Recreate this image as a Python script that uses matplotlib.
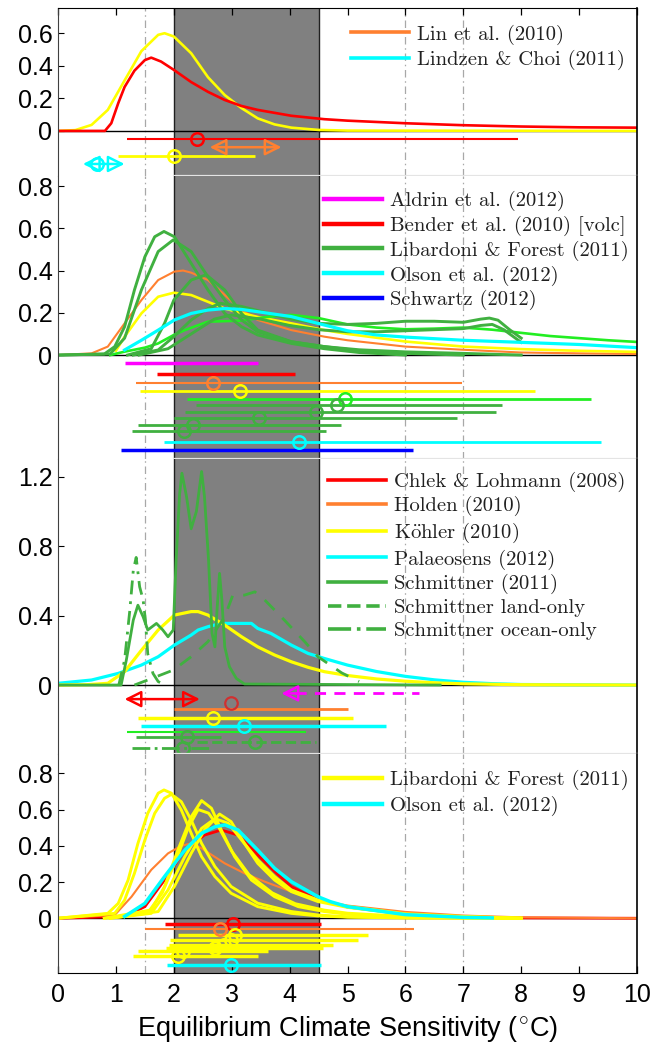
import matplotlib
matplotlib.use("Agg")
import matplotlib.pyplot as plt
from matplotlib.lines import Line2D
from matplotlib.ticker import FixedLocator, FixedFormatter

# ---------------------------------------------------------------- colours
RED = "#ff0000"
ORANGE = "#ff8030"
YELLOW = "#ffff00"
CYAN = "#00ffff"
DKGREEN = "#40b040"
LIME = "#22ee22"
MAGENTA = "#ff00ff"
BLUE = "#0000ff"

# ---------------------------------------------------------------- panel 1
p1_yellow_x = [0, 0.3, 0.58, 0.86, 1.15, 1.44, 1.73, 1.84, 2.0, 2.3, 2.59, 2.88, 3.17, 3.45, 3.74, 4.03, 4.5, 5.0, 10]
p1_yellow_y = [0, 0.005, 0.037, 0.129, 0.31, 0.49, 0.59, 0.60, 0.58, 0.477, 0.33, 0.22, 0.14, 0.077, 0.04, 0.02, 0.006, 0.002, 0]
p1_red_x = [0, 0.81, 0.92, 1.04, 1.15, 1.32, 1.5, 1.61, 1.78, 2.0, 2.3, 2.59, 2.88, 3.17, 3.45, 4.03, 4.6, 5.0, 6.0, 7.0, 8.0, 9.0, 10.0]
p1_red_y = [0, 0.0, 0.047, 0.17, 0.27, 0.37, 0.435, 0.45, 0.426, 0.375, 0.30, 0.24, 0.19, 0.153, 0.129, 0.093, 0.072, 0.063, 0.047, 0.035, 0.027, 0.022, 0.02]

# ranges: (low, high, median or None, row, colour, width)
p1_ranges = [
    (1.20, 7.95, 2.40, -0.051, RED, 1.5),
    (1.04, 3.41, 2.00, -0.154, YELLOW, 2.0),
]
p1_arrows = [
    (2.62, 3.86, None, -0.100, ORANGE),
    (0.43, 1.15, 0.68, -0.203, CYAN),
]
p1_labels = ["Lin et al. (2010)", "Lindzen & Choi (2011)"]
p1_label_colors = [ORANGE, CYAN]

# ---------------------------------------------------------------- panel 2
p2_orange_x = [0, 0.58, 0.86, 1.15, 1.44, 1.73, 2.01, 2.16, 2.3, 2.59, 2.88, 3.17, 3.45, 4.03, 4.6, 5.0, 6.0, 7.0, 8.0, 9.0, 10]
p2_orange_y = [0, 0.008, 0.04, 0.15, 0.26, 0.355, 0.395, 0.40, 0.39, 0.355, 0.284, 0.213, 0.166, 0.118, 0.087, 0.07, 0.04, 0.025, 0.012, 0.008, 0.005]
p2_yellow_x = [1.0, 1.15, 1.44, 1.73, 2.0, 2.3, 2.59, 2.88, 3.45, 4.03, 4.6, 5.0, 6.0, 7.0, 8.0, 9.0, 10]
p2_yellow_y = [0.02, 0.087, 0.197, 0.276, 0.295, 0.284, 0.252, 0.22, 0.18, 0.15, 0.118, 0.1, 0.064, 0.04, 0.028, 0.02, 0.015]
p2_lime_x = [0.9, 1.15, 1.5, 1.73, 2.0, 2.19, 2.59, 3.17, 3.6, 4.03, 4.5, 5.0, 5.5, 6.0, 6.5, 7.0, 7.5, 8.0, 8.5, 9.0, 9.5, 10]
p2_lime_y = [0, 0.016, 0.035, 0.055, 0.095, 0.118, 0.158, 0.163, 0.18, 0.19, 0.175, 0.145, 0.13, 0.122, 0.125, 0.13, 0.12, 0.105, 0.09, 0.08, 0.07, 0.062]
p2_green1_x = [0, 0.8, 0.98, 1.15, 1.32, 1.5, 1.67, 1.83, 2.01, 2.3, 2.59, 2.88, 3.17, 3.45, 4.03, 4.6, 5.2, 6.0]
p2_green1_y = [0, 0.005, 0.04, 0.134, 0.308, 0.465, 0.56, 0.585, 0.56, 0.434, 0.308, 0.197, 0.134, 0.095, 0.055, 0.03, 0.012, 0.0]
p2_green2_x = [0, 0.9, 1.15, 1.44, 1.73, 1.99, 2.3, 2.59, 2.88, 3.17, 3.45, 4.03, 4.6, 5.2, 6.0, 7.0]
p2_green2_y = [0, 0.005, 0.08, 0.308, 0.49, 0.545, 0.49, 0.37, 0.26, 0.166, 0.11, 0.063, 0.04, 0.02, 0.008, 0.0]
p2_green3_x = [1.2, 1.61, 1.84, 2.0, 2.3, 2.56, 2.88, 3.17, 3.45, 4.03, 4.6, 5.2, 6.0, 7.0, 8.0]
p2_green3_y = [0, 0.03, 0.15, 0.26, 0.355, 0.38, 0.308, 0.197, 0.118, 0.063, 0.04, 0.025, 0.015, 0.008, 0.0]
p2_green4_x = [1.3, 1.73, 2.0, 2.3, 2.59, 2.8, 3.17, 3.6, 4.03, 4.5, 5.0, 5.5, 6.0, 6.5, 7.0, 7.3, 7.45, 7.6, 7.8, 8.0]
p2_green4_y = [0, 0.024, 0.087, 0.166, 0.22, 0.245, 0.23, 0.2, 0.17, 0.15, 0.145, 0.15, 0.16, 0.16, 0.155, 0.17, 0.175, 0.165, 0.12, 0.08]
p2_green5_x = [1.4, 1.9, 2.3, 2.7, 3.0, 3.5, 4.0, 4.5, 5.0, 5.5, 6.0, 6.5, 7.0, 7.3, 7.5, 7.7, 8.0]
p2_green5_y = [0, 0.03, 0.1, 0.17, 0.19, 0.17, 0.14, 0.12, 0.11, 0.11, 0.115, 0.12, 0.125, 0.14, 0.145, 0.12, 0.06]
p2_cyan_x = [1.15, 1.44, 1.73, 2.01, 2.3, 2.59, 2.88, 3.17, 3.45, 4.03, 4.6, 5.0, 5.5, 6.0, 7.0, 8.0, 9.0, 10]
p2_cyan_y = [0.024, 0.07, 0.118, 0.166, 0.197, 0.213, 0.22, 0.216, 0.205, 0.182, 0.142, 0.115, 0.095, 0.085, 0.07, 0.06, 0.05, 0.035]

p2_ranges = [
    (1.15, 3.45, None, -0.039, MAGENTA, 2.5),
    (1.71, 4.09, None, -0.0915, RED, 2.5),
    (1.34, 6.98, 2.68, -0.131, ORANGE, 1.5),
    (1.41, 8.24, 3.14, -0.170, YELLOW, 2.0),
    (2.22, 9.21, 4.95, -0.210, LIME, 2.0),
    (2.39, 7.66, 4.82, -0.237, DKGREEN, 2.0),
    (2.19, 7.56, 4.46, -0.268, DKGREEN, 2.0),
    (2.01, 6.89, 3.48, -0.300, DKGREEN, 2.0),
    (1.38, 4.89, 2.33, -0.331, DKGREEN, 2.0),
    (1.28, 4.63, 2.18, -0.360, DKGREEN, 2.0),
    (1.83, 9.37, 4.16, -0.413, CYAN, 2.0),
    (1.09, 6.13, None, -0.450, BLUE, 2.5),
]
p2_labels = ["Aldrin et al. (2012)", "Bender et al. (2010) [volc]",
             "Libardoni & Forest (2011)", "Olson et al. (2012)", "Schwartz (2012)"]
p2_label_colors = [MAGENTA, RED, DKGREEN, CYAN, BLUE]

# ---------------------------------------------------------------- panel 3
p3_cyan_x = [0, 0.58, 1.04, 1.44, 1.73, 2.01, 2.3, 2.42, 2.59, 2.82, 3.34, 3.45, 3.68, 4.03, 4.32, 4.6, 5.0, 5.5, 6.0, 6.5, 7.0, 7.5, 8.0, 10]
p3_cyan_y = [0.01, 0.029, 0.067, 0.115, 0.163, 0.23, 0.288, 0.317, 0.336, 0.355, 0.355, 0.326, 0.297, 0.23, 0.182, 0.153, 0.115, 0.078, 0.05, 0.03, 0.016, 0.008, 0.003, 0]
p3_yellow_x = [0, 0.5, 0.86, 1.15, 1.44, 1.73, 2.01, 2.3, 2.42, 2.59, 2.88, 3.17, 3.45, 3.74, 4.03, 4.32, 4.6, 5.0, 5.5, 6.0, 6.5, 7.0, 8.0, 10]
p3_yellow_y = [0, 0.002, 0.01, 0.077, 0.2, 0.317, 0.403, 0.423, 0.423, 0.403, 0.345, 0.278, 0.22, 0.173, 0.134, 0.102, 0.077, 0.055, 0.035, 0.022, 0.013, 0.007, 0.002, 0]
p3_land_x = [1.32, 1.55, 1.99, 2.3, 2.59, 2.88, 3.02, 3.22, 3.4, 3.57, 3.91, 4.26, 4.49, 4.9, 5.2]
p3_land_y = [0, 0.029, 0.086, 0.163, 0.25, 0.393, 0.518, 0.518, 0.537, 0.49, 0.374, 0.25, 0.163, 0.07, 0.02]
p3_ocean_x = [1.05, 1.15, 1.24, 1.3, 1.35, 1.41, 1.47, 1.51, 1.55, 1.64, 1.73, 1.85]
p3_ocean_y = [0, 0.144, 0.43, 0.66, 0.735, 0.566, 0.49, 0.374, 0.18, 0.067, 0.02, 0]
p3_schm_x = [0, 1.09, 1.18, 1.3, 1.38, 1.47, 1.55, 1.7, 1.81, 1.9, 1.99, 2.04, 2.1, 2.14, 2.22, 2.3, 2.39, 2.48,
             2.53, 2.6, 2.66, 2.71, 2.75, 2.79, 2.83, 2.88, 2.96, 3.08, 3.22, 6.6]
p3_schm_y = [0, 0, 0.144, 0.374, 0.46, 0.393, 0.317, 0.355, 0.317, 0.278, 0.317, 0.72, 1.1, 1.22, 1.085, 0.9, 1.0, 1.23,
             1.085, 0.72, 0.298, 0.22, 0.45, 0.643, 0.49, 0.22, 0.106, 0.038, 0.006, 0]

p3_ranges = [
    (2.00, 5.00, None, -0.140, ORANGE, 2.0),
    (1.39, 5.09, 2.68, -0.192, YELLOW, 2.5),
    (1.44, 5.67, 3.22, -0.236, CYAN, 2.5),
    (1.19, 4.29, None, -0.270, LIME, 1.5),
    (1.35, 2.82, 2.22, -0.301, DKGREEN, 2.0),
]
p3_dashed_ranges = [
    (2.40, 4.46, 3.40, -0.330, DKGREEN, "--"),
    (1.27, 2.65, 2.16, -0.365, DKGREEN, "-."),
]
p3_arrows = [(1.15, 2.45, None, -0.081, RED)]
p3_left_arrow = (3.86, 6.24, -0.048, MAGENTA)
p3_red_median = (2.99, -0.105)
p3_labels = ["Chlek & Lohmann (2008)", "Holden (2010)", r"K$\ddot{\mathrm{o}}$hler (2010)", "Palaeosens (2012)",
             "Schmittner (2011)", "Schmittner land-only", "Schmittner ocean-only"]
p3_label_colors = [RED, ORANGE, YELLOW, CYAN, DKGREEN, DKGREEN, DKGREEN]
p3_label_styles = ["-", "-", "-", "-", "-", "--", "-."]

# ---------------------------------------------------------------- panel 4
p4_red_x = [0, 1.15, 1.5, 1.84, 2.19, 2.53, 2.82, 3.11, 3.45, 3.74, 4.03, 4.49, 5.0, 6.0, 7.0, 8.0, 10]
p4_red_y = [0, 0.01, 0.064, 0.211, 0.376, 0.459, 0.487, 0.459, 0.349, 0.258, 0.175, 0.101, 0.062, 0.022, 0.008, 0.002, 0]
p4_orange_x = [0, 0.98, 1.27, 1.61, 1.9, 2.13, 2.3, 2.48, 2.88, 3.22, 3.57, 4.03, 4.49, 5.0, 6.0, 7.0, 8.0, 10]
p4_orange_y = [0, 0.018, 0.119, 0.267, 0.358, 0.4, 0.413, 0.386, 0.303, 0.248, 0.202, 0.147, 0.101, 0.07, 0.035, 0.015, 0.005, 0]
p4_lf1_x = [0, 0.86, 1.04, 1.21, 1.38, 1.55, 1.73, 1.83, 1.96, 2.13, 2.3, 2.48, 2.71, 2.99, 3.45, 4.03, 4.49, 5.0, 6.0, 8.0]
p4_lf1_y = [0, 0.027, 0.082, 0.21, 0.413, 0.579, 0.69, 0.708, 0.69, 0.597, 0.469, 0.34, 0.23, 0.138, 0.064, 0.027, 0.013, 0.006, 0.002, 0]
p4_lf2_x = [0, 0.98, 1.15, 1.32, 1.5, 1.67, 1.84, 1.96, 2.13, 2.3, 2.48, 2.71, 2.99, 3.45, 4.03, 4.49, 5.0, 6.0, 8.0]
p4_lf2_y = [0, 0.027, 0.1, 0.248, 0.432, 0.579, 0.662, 0.684, 0.643, 0.542, 0.413, 0.285, 0.175, 0.083, 0.037, 0.018, 0.008, 0.002, 0]
p4_lf3_x = [0.8, 1.61, 1.84, 2.07, 2.3, 2.48, 2.65, 2.82, 3.05, 3.34, 3.74, 4.15, 4.6, 5.0, 6.0, 7.0, 8.0]
p4_lf3_y = [0, 0.046, 0.175, 0.376, 0.56, 0.649, 0.607, 0.487, 0.34, 0.211, 0.119, 0.064, 0.037, 0.022, 0.008, 0.003, 0]
p4_lf4_x = [0.8, 1.55, 1.8, 2.05, 2.25, 2.42, 2.6, 2.78, 3.0, 3.3, 3.7, 4.1, 4.6, 5.0, 6.0, 7.0, 8.0]
p4_lf4_y = [0, 0.03, 0.14, 0.33, 0.5, 0.6, 0.58, 0.5, 0.37, 0.24, 0.14, 0.08, 0.045, 0.028, 0.01, 0.004, 0]
p4_lf5_x = [0.9, 1.73, 2.01, 2.3, 2.53, 2.79, 2.99, 3.22, 3.45, 3.74, 4.03, 4.49, 5.0, 6.0, 7.0, 8.0]
p4_lf5_y = [0, 0.037, 0.175, 0.358, 0.487, 0.575, 0.533, 0.413, 0.303, 0.211, 0.147, 0.092, 0.06, 0.022, 0.008, 0]
p4_lf6_x = [0.9, 1.61, 1.9, 2.19, 2.48, 2.71, 2.94, 3.17, 3.45, 3.74, 4.03, 4.49, 5.0, 6.0, 7.0, 8.0]
p4_lf6_y = [0, 0.027, 0.156, 0.34, 0.496, 0.55, 0.524, 0.432, 0.322, 0.23, 0.156, 0.101, 0.065, 0.025, 0.01, 0]
p4_cyan_x = [1.15, 1.5, 1.84, 2.19, 2.48, 2.71, 2.88, 3.11, 3.45, 3.74, 4.03, 4.49, 4.7, 5.0, 6.0, 7.0, 7.5]
p4_cyan_y = [0.01, 0.082, 0.23, 0.376, 0.469, 0.505, 0.515, 0.487, 0.376, 0.276, 0.202, 0.119, 0.092, 0.064, 0.02, 0.005, 0.002]

p4_ranges = [
    (1.84, 4.55, 3.03, -0.031, RED, 2.5),
    (1.51, 6.15, 2.79, -0.061, ORANGE, 1.5),
    (2.08, 5.35, 3.05, -0.092, YELLOW, 2.5),
    (1.94, 5.18, 2.99, -0.120, YELLOW, 2.5),
    (1.92, 4.75, 2.87, -0.145, YELLOW, 2.5),
    (1.87, 4.58, 2.71, -0.163, YELLOW, 2.5),
    (1.38, 3.62, 2.16, -0.182, YELLOW, 2.5),
    (1.30, 3.45, 2.07, -0.208, YELLOW, 2.5),
    (1.88, 4.55, 2.99, -0.258, CYAN, 2.5),
]
p4_labels = ["Libardoni & Forest (2011)", "Olson et al. (2012)"]
p4_label_colors = [YELLOW, CYAN]

# ---------------------------------------------------------------- layout
LIKELY_LOW, LIKELY_HIGH = 2.0, 4.5
REF_LINES = [1.5, 6.0, 7.0]
X_TICKS = list(range(11))

panel_ylims = [(-0.275, 0.755), (-0.492, 0.849), (-0.397, 1.302), (-0.302, 0.9065)]
panel_yticks = [[0, 0.2, 0.4, 0.6], [0, 0.2, 0.4, 0.6, 0.8], [0, 0.4, 0.8, 1.2], [0, 0.2, 0.4, 0.6, 0.8]]
panel_ytick_labels = [["0", "0.2", "0.4", "0.6"], ["0", "0.2", "0.4", "0.6", "0.8"],
                      ["0", "0.4", "0.8", "1.2"], ["0", "0.2", "0.4", "0.6", "0.8"]]
panel_bounds = [(0.8330, 0.9924), (0.5637, 0.8330), (0.2833, 0.5637), (0.0751, 0.2833)]
legend_anchor = [(0.506, 0.902), (0.459, 0.946), (0.467, 0.957), (0.459, 0.926)]
legend_spacing = [0.27, 0.22, 0.21, 0.27]
LEGEND_SIZE = 14.9

SANS = ["Liberation Sans", "DejaVu Sans"]
SERIF = ["cmr10", "DejaVu Serif"]
plt.rcParams["font.family"] = SANS
plt.rcParams["mathtext.fontset"] = "cm"
plt.rcParams["axes.formatter.use_mathtext"] = False

fig = plt.figure(figsize=(6.54, 10.52), dpi=100)
left, width = 0.0887, 0.8853
axes = []
for (b, t) in panel_bounds:
    axes.append(fig.add_axes([left, b, width, t - b]))


def decorate(ax, idx):
    ax.set_xlim(0, 10)
    ax.set_ylim(*panel_ylims[idx])
    ax.axvspan(LIKELY_LOW, LIKELY_HIGH, facecolor="#808080", edgecolor="none", zorder=0)
    for xv in (LIKELY_LOW, LIKELY_HIGH):
        ax.axvline(xv, color="#202020", lw=1.0, zorder=0.6)
    for xv in REF_LINES:
        ax.axvline(xv, color="#a8a8a8", lw=0.9, ls=(0, (6, 3, 1.2, 3)), zorder=0.5)
    ax.axhline(0, color="black", lw=1.0, zorder=1)
    ax.yaxis.set_major_locator(FixedLocator(panel_yticks[idx]))
    ax.yaxis.set_major_formatter(FixedFormatter(panel_ytick_labels[idx]))
    ax.xaxis.set_major_locator(FixedLocator(X_TICKS))
    ax.tick_params(axis="y", direction="in", length=4, width=0.8, labelsize=18, pad=4, right=False)
    ax.tick_params(axis="x", direction="in", length=5, width=0.9, labelsize=18, pad=7,
                   top=(idx == 0), bottom=(idx == 3), labelbottom=(idx == 3))
    ax.spines["left"].set_color("#404040")
    ax.spines["left"].set_linewidth(0.8)
    ax.spines["right"].set_color("black")
    ax.spines["right"].set_linewidth(1.2)
    ax.spines["top"].set_visible(idx == 0)
    ax.spines["bottom"].set_visible(idx == 3)
    if idx < 3:
        lo = panel_ylims[idx][0]
        ax.plot([LIKELY_LOW, 10], [lo, lo], color="#e4e4e4", lw=1.6, zorder=5, clip_on=False)


def curve(ax, xs, ys, color, lw=1.9, ls="-", z=2):
    ax.plot(xs, ys, color=color, lw=lw, ls=ls, zorder=z, solid_joinstyle="round")


def ranges(ax, items, z=3):
    for lo, hi, med, row, color, lw in items:
        ax.plot([lo, hi], [row, row], color=color, lw=lw, zorder=z, solid_capstyle="butt")
        if med is not None:
            ax.plot([med], [row], marker="o", ms=9, mfc="none", mec=color, mew=1.8, zorder=z + 0.1)


def arrows(ax, items, z=3):
    for lo, hi, med, row, color in items:
        ax.annotate("", xy=(hi, row), xytext=(lo, row),
                    arrowprops=dict(arrowstyle="<|-|>,head_length=1.0,head_width=0.5",
                                    ec=color, fc="none", lw=1.8, shrinkA=0, shrinkB=0),
                    zorder=z)
        if med is not None:
            ax.plot([med], [row], marker="o", ms=9, mfc="none", mec=color, mew=1.8, zorder=z + 0.1)


def legend(ax, idx, labels, colors, styles=None, lw=2.6):
    styles = styles or ["-"] * len(labels)
    handles = [Line2D([], [], color=c, lw=lw, ls=s) for c, s in zip(colors, styles)]
    leg = ax.legend(handles, labels, loc="upper left", bbox_to_anchor=legend_anchor[idx],
                    frameon=False, borderpad=0, borderaxespad=0, handlelength=2.8,
                    handletextpad=0.39, labelspacing=legend_spacing[idx],
                    prop={"family": SERIF, "size": LEGEND_SIZE})
    leg.set_zorder(6)
    for t in leg.get_texts():
        t.set_color("#202020")


# ---------------- panel 1
ax = axes[0]
decorate(ax, 0)
curve(ax, p1_yellow_x, p1_yellow_y, YELLOW)
curve(ax, p1_red_x, p1_red_y, RED)
ranges(ax, p1_ranges)
arrows(ax, p1_arrows)
legend(ax, 0, p1_labels, p1_label_colors)

# ---------------- panel 2
ax = axes[1]
decorate(ax, 1)
curve(ax, p2_orange_x, p2_orange_y, ORANGE, lw=1.5)
curve(ax, p2_yellow_x, p2_yellow_y, YELLOW)
curve(ax, p2_lime_x, p2_lime_y, LIME)
for gx, gy in [(p2_green5_x, p2_green5_y), (p2_green4_x, p2_green4_y), (p2_green3_x, p2_green3_y),
               (p2_green2_x, p2_green2_y), (p2_green1_x, p2_green1_y)]:
    curve(ax, gx, gy, DKGREEN, lw=2.1)
curve(ax, p2_cyan_x, p2_cyan_y, CYAN, lw=2.3)
ranges(ax, p2_ranges)
legend(ax, 1, p2_labels, p2_label_colors, lw=3.2)

# ---------------- panel 3
ax = axes[2]
decorate(ax, 2)
curve(ax, p3_cyan_x, p3_cyan_y, CYAN, lw=2.3)
curve(ax, p3_yellow_x, p3_yellow_y, YELLOW, lw=2.3)
curve(ax, p3_land_x, p3_land_y, DKGREEN, lw=2.0, ls=(0, (5, 4)))
curve(ax, p3_ocean_x, p3_ocean_y, DKGREEN, lw=2.0, ls=(0, (5, 2.5, 1, 2.5)))
curve(ax, p3_schm_x, p3_schm_y, DKGREEN, lw=2.0)
ranges(ax, p3_ranges)
for lo, hi, med, row, color, ls in p3_dashed_ranges:
    ax.plot([lo, hi], [row, row], color=color, lw=2.0, ls=ls, zorder=3)
    ax.plot([med], [row], marker="o", ms=9, mfc="none", mec=color, mew=1.8, zorder=3.1)
arrows(ax, p3_arrows)
lo, hi, row, color = p3_left_arrow
head = 0.24
ax.plot([lo + head, hi], [row, row], color=color, lw=2.0, ls=(0, (4, 3)), zorder=3)
ax.annotate("", xy=(lo, row), xytext=(lo + head, row),
            arrowprops=dict(arrowstyle="-|>,head_length=1.0,head_width=0.5",
                            ec=color, fc="none", lw=1.8, shrinkA=0, shrinkB=0), zorder=3)
ax.plot([p3_red_median[0]], [p3_red_median[1]], marker="o", ms=9, mfc="none",
        mec="#d03030", mew=1.6, zorder=3)
legend(ax, 2, p3_labels, p3_label_colors, p3_label_styles, lw=2.6)

# ---------------- panel 4
ax = axes[3]
decorate(ax, 3)
curve(ax, p4_red_x, p4_red_y, RED, lw=2.0)
curve(ax, p4_orange_x, p4_orange_y, ORANGE, lw=1.5)
for yx, yy in [(p4_lf6_x, p4_lf6_y), (p4_lf5_x, p4_lf5_y), (p4_lf4_x, p4_lf4_y),
               (p4_lf3_x, p4_lf3_y), (p4_lf2_x, p4_lf2_y), (p4_lf1_x, p4_lf1_y)]:
    curve(ax, yx, yy, YELLOW, lw=2.1)
curve(ax, p4_cyan_x, p4_cyan_y, CYAN, lw=2.5)
ranges(ax, p4_ranges)
legend(ax, 3, p4_labels, p4_label_colors, lw=3.2)
ax.set_xlabel(r"Equilibrium Climate Sensitivity ($^{\circ}$C)", fontsize=19.5, labelpad=5)

fig.savefig("out.png", dpi=100)
